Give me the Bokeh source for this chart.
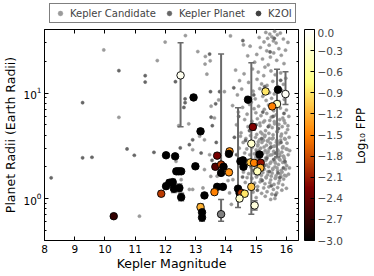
import math
from bokeh.plotting import figure
from bokeh.layouts import column, row
from bokeh.models import (ColumnDataSource, Range1d, FixedTicker, LinearColorMapper, ColorBar,
                          Legend, LegendItem, LinearAxis, LogAxis, Label,
                          CustomJSTickFormatter)
from bokeh.transform import transform
from bokeh.embed import file_html
from bokeh.resources import INLINE

FONT = "DejaVu Sans"

# ---------------- data ----------------
# Kepler candidates (Kepler magnitude, radius in Earth radii)
cand_kp = [9.96, 10.46, 11.73, 11.99, 11.14, 12.66, 12.44, 12.77, 13.07, 13.32, 13.31, 13.48, 13.37, 13.51,
           13.62, 13.13, 13.76, 14.15, 14.58, 13.95, 12.35, 12.52, 12.79, 13.29, 12.90, 13.46, 13.29, 13.50,
           13.24, 14.07, 14.23, 14.12, 14.18, 12.90, 13.71,
           15.32, 15.45, 15.61, 15.52, 15.70, 15.38, 15.80, 15.57, 15.26, 15.66, 15.43, 15.90, 15.14, 15.75,
           15.35, 15.58, 15.02, 15.83, 15.47, 15.21, 15.68, 14.95, 15.92, 15.40, 14.80, 15.10, 15.97, 16.05,
           14.72, 15.29,
           14.32, 14.60, 14.88, 15.07, 15.25, 15.49, 15.63, 15.81, 15.98, 14.45, 14.75, 15.03, 15.18, 15.36,
           15.55, 15.72, 15.90, 14.52, 14.90, 15.12, 15.44, 15.60, 15.85, 16.02, 14.38, 14.68, 14.97, 15.22,
           15.33, 15.51, 15.76, 15.93, 14.84,
           14.22, 14.55, 14.78, 14.93, 15.08, 15.27, 15.41, 15.58, 15.80, 16.00, 14.41, 14.70, 14.99, 15.16,
           15.35, 15.50, 15.66, 15.88, 16.08, 14.62, 14.86, 15.04, 15.24, 15.45, 15.61, 15.78, 15.95, 14.35,
           14.73, 14.95, 15.13, 15.31, 15.53, 15.70, 15.86, 16.04, 14.50, 15.20,
           14.48, 14.66, 14.81, 14.98, 15.11, 15.28, 15.39, 15.56, 15.68, 15.82, 15.96, 16.09,
           14.57, 14.76, 14.91, 15.06, 15.19, 15.34, 15.47, 15.63, 15.75, 15.89, 16.02,
           14.44, 14.69, 14.87, 15.00, 15.15, 15.30, 15.43, 15.58, 15.71, 15.85, 15.99, 16.11,
           14.62, 14.79, 14.94, 15.09, 15.23, 15.37, 15.52, 15.66, 15.79, 15.93, 16.06,
           14.53, 14.72, 14.89, 15.03, 15.17, 15.32, 15.46, 15.61, 15.74, 15.88, 16.01,
           14.67, 14.83, 14.97, 15.12, 15.27, 15.41, 15.55, 15.69, 15.83, 15.97, 16.10,
           15.24, 15.50, 15.77, 15.36, 15.62, 15.91, 15.05, 15.44, 15.70,
           14.58, 14.75, 14.92, 15.08, 15.22, 15.38, 15.53, 15.66, 15.80, 15.94, 16.07,
           14.70, 14.86, 15.01, 15.16, 15.33, 15.48, 15.63, 15.77, 15.91,
           14.64, 14.95, 15.13, 15.29, 15.45, 15.59, 15.74, 15.88,
           14.80, 15.05, 15.25, 15.42, 15.57, 15.71, 15.85, 16.00,
           14.90, 15.18, 15.36, 15.52, 15.68,
           15.00, 15.30, 15.48, 15.62,
           15.02, 15.15, 15.29, 15.42, 15.56, 15.69, 15.84, 15.98, 15.07, 15.21, 15.37, 15.53, 15.67, 15.81,
           15.94, 15.10, 15.26, 15.40, 15.58, 15.73, 15.87, 16.03, 14.99, 15.14, 15.31, 15.46, 15.60, 15.76,
           15.90, 15.05, 15.19, 15.34, 15.49, 15.64, 15.79, 15.96, 15.09, 15.24, 15.39, 15.55, 15.71, 15.86,
           15.01, 15.17, 15.33, 15.50, 15.65, 15.82, 15.99, 15.12, 15.28, 15.44, 15.60, 15.75, 15.92, 16.05]
cand_rad = [25.6, 5.88, 20.3, 30.4, 0.68, 35.0, 4.9, 5.1, 24.7, 22.2, 18.8, 20.2, 15.1, 7.5,
            5.8, 3.9, 8.6, 34.8, 28.6, 10.3, 2.25, 1.51, 1.22, 3.6, 2.9, 2.6, 1.88, 1.62,
            1.26, 1.48, 1.51, 1.13, 0.88, 1.22, 1.63,
            37.5, 36.2, 38.4, 34.1, 35.6, 33.0, 37.0, 31.2, 30.5, 29.8, 28.4, 32.5, 27.0, 26.3,
            25.1, 24.0, 23.2, 22.8, 21.9, 21.0, 20.4, 19.6, 19.0, 18.5, 27.8, 33.6, 25.5, 30.2,
            22.5, 17.6,
            16.5, 15.2, 16.9, 15.8, 14.6, 16.2, 14.9, 15.5, 13.8, 13.1, 12.6, 13.5, 12.2, 11.8,
            12.9, 11.5, 12.1, 10.9, 10.4, 11.0, 10.1, 9.8, 10.6, 9.4, 9.6, 9.1, 8.8, 9.3,
            8.5, 8.9, 8.3, 8.7, 8.2,
            7.6, 7.3, 7.8, 7.1, 7.5, 7.0, 7.7, 6.8, 7.2, 6.9, 6.6, 6.3, 6.5, 6.1,
            6.4, 5.9, 6.2, 5.8, 6.0, 5.6, 5.4, 5.7, 5.3, 5.5, 5.1, 5.6, 5.2, 5.0,
            4.8, 4.6, 4.9, 4.4, 4.7, 4.3, 4.8, 4.5, 4.2, 4.1,
            3.9, 3.7, 3.95, 3.8, 3.6, 3.85, 3.5, 3.75, 3.55, 3.9, 3.65, 3.8,
            3.4, 3.3, 3.45, 3.25, 3.4, 3.2, 3.35, 3.15, 3.3, 3.1, 3.35,
            3.0, 2.95, 3.05, 2.9, 3.0, 2.85, 2.95, 2.8, 2.9, 2.75, 2.95, 2.85,
            2.7, 2.6, 2.65, 2.55, 2.7, 2.5, 2.6, 2.45, 2.55, 2.4, 2.6,
            2.35, 2.3, 2.25, 2.35, 2.2, 2.3, 2.15, 2.25, 2.1, 2.2, 2.05,
            2.05, 1.98, 2.0, 1.95, 1.9, 2.0, 1.88, 1.95, 1.85, 1.9, 1.95,
            3.55, 3.1, 2.65, 2.7, 2.0, 2.5, 3.15, 3.7, 3.45,
            1.78, 1.72, 1.75, 1.7, 1.76, 1.68, 1.74, 1.65, 1.72, 1.66, 1.7,
            1.58, 1.55, 1.6, 1.52, 1.57, 1.5, 1.55, 1.48, 1.53,
            1.42, 1.4, 1.44, 1.38, 1.41, 1.36, 1.4, 1.35,
            1.28, 1.3, 1.26, 1.29, 1.22, 1.27, 1.2, 1.25,
            1.15, 1.12, 1.16, 1.1, 1.13,
            1.02, 1.05, 0.98, 1.0,
            4.05, 4.25, 3.98, 4.15, 4.02, 4.3, 4.08, 4.2, 3.45, 3.62, 3.52, 3.68, 3.42, 3.58,
            3.7, 2.88, 3.08, 2.78, 3.12, 2.82, 3.02, 2.92, 2.48, 2.62, 2.42, 2.58, 2.68, 2.38,
            2.52, 2.12, 2.28, 2.08, 2.22, 2.16, 2.32, 2.18, 1.82, 1.9, 1.8, 1.92, 1.84, 1.78,
            1.62, 1.66, 1.6, 1.63, 1.58, 1.61, 1.64, 5.2, 5.45, 4.95, 5.35, 5.05, 5.5, 4.9]

# Kepler confirmed planets
plan_kp = [8.22, 9.26, 9.26, 9.57, 10.46, 10.73, 10.97, 11.33, 11.33, 11.62, 12.33, 12.49, 12.65, 12.65,
           12.61, 12.79, 13.46, 13.49, 13.55, 13.79, 14.56, 13.66, 13.51, 12.90, 13.68, 13.18, 13.54,
           14.65, 14.85, 15.02, 15.18, 15.35, 15.48, 15.65, 15.82, 15.95, 14.74, 14.90, 15.10, 15.26,
           15.44, 15.58, 15.72, 15.90, 14.78, 15.00, 15.22, 15.40, 15.56, 15.74, 15.92, 14.92, 15.28,
           15.62, 15.81, 15.46, 15.60, 15.20, 15.50, 15.78, 15.04, 15.64, 14.55, 14.35, 14.28, 14.42,
           14.26]
plan_rad = [1.57, 8.1, 2.43, 2.46, 16.3, 2.95, 2.57, 14.6, 12.7, 2.74, 12.8, 3.02, 8.8, 8.1,
            7.3, 3.24, 23.4, 10.3, 4.9, 10.3, 31.4, 7.9, 5.9, 3.6, 3.4, 2.7, 2.3,
            3.55, 3.2, 2.75, 3.7, 2.4, 3.05, 2.7, 3.4, 2.25, 2.15, 1.85, 2.4, 2.05,
            1.8, 2.35, 1.75, 1.95, 4.4, 5.0, 6.6, 4.8, 6.0, 4.6, 6.4, 9.6, 11.5,
            8.0, 13.2, 24.5, 33.0, 1.48, 1.32, 1.58, 1.2, 1.08, 1.6, 2.6, 3.8, 6.0,
            11.2]

# K2 objects of interest
k2_kp = [10.29, 11.86, 12.02, 12.32, 12.36, 12.44, 12.52, 12.99, 12.02, 12.13, 12.24, 12.28, 12.46, 12.52,
         13.16, 12.50, 12.93, 14.73, 14.89, 15.31, 15.72, 15.97, 15.69, 15.53, 13.71, 14.12, 14.10, 13.65,
         13.84, 13.92, 13.84, 14.10, 14.48, 14.56, 14.58, 14.84, 15.11, 14.81, 14.93, 15.15, 15.14, 15.04,
         13.71, 13.90, 13.62, 14.40, 14.45, 14.51, 14.62, 14.45, 14.84, 13.29, 13.16, 13.21, 13.21, 13.84,
         14.95]
k2_rad = [0.68, 1.11, 2.57, 2.51, 1.81, 1.81, 1.81, 2.02, 1.31, 1.41, 1.43, 1.24, 1.26, 1.03,
          4.33, 14.7, 9.08, 8.64, 4.77, 10.35, 10.75, 9.78, 7.87, 7.47, 2.55, 2.80, 2.65, 2.00,
          2.10, 2.00, 1.75, 1.77, 2.25, 2.30, 2.00, 3.31, 2.61, 2.20, 2.18, 2.18, 1.95, 1.81,
          1.29, 1.29, 1.15, 1.24, 1.13, 1.13, 1.11, 1.00, 1.29, 1.07, 0.83, 0.74, 0.66, 0.71,
          0.86]
k2_err_lo = [0.03, 0.06, 0.10, 0.10, 0.08, 0.08, 0.08, 0.09, 0.07, 0.08, 0.08, 0.10, 0.10, 0.08,
             0.20, 9.90, 0.40, 0.40, 0.30, 0.50, 0.50, 2.00, 5.40, 0.40, 0.12, 0.12, 0.12, 0.10,
             0.20, 0.10, 0.09, 0.09, 0.10, 0.10, 0.10, 2.60, 0.12, 0.10, 0.10, 0.10, 0.09, 0.09,
             0.06, 0.06, 0.06, 0.42, 0.06, 0.06, 0.06, 0.05, 0.07, 0.05, 0.05, 0.05, 0.05, 0.10,
             0.08]
k2_err_hi = [0.03, 0.07, 0.12, 0.12, 0.09, 0.09, 0.09, 0.10, 0.08, 0.09, 0.09, 0.11, 0.11, 0.09,
             0.25, 15.2, 0.45, 0.45, 0.35, 0.60, 0.60, 6.10, 8.90, 0.45, 0.14, 0.14, 0.14, 0.12,
             21.3, 0.12, 0.10, 0.10, 0.12, 0.12, 0.12, 16.1, 0.14, 0.12, 0.12, 0.12, 0.10, 0.10,
             0.07, 0.07, 0.07, 6.00, 0.07, 0.07, 0.07, 0.06, 0.08, 0.06, 0.06, 0.06, 0.06, 0.27,
             0.09]
k2_logfpp = [-2.7, -1.9, -3.0, -3.0, -3.0, -3.0, -3.0, -3.0, -3.0, -3.0, -3.0, -3.0, -3.0, -3.0,
             -3.0, -0.1, -3.0, -3.0, -2.25, -0.9, -3.0, -0.05, -0.35, -1.5, -2.3, -1.4, -3.0, -2.5,
             -1.9, -3.0, -3.0, -1.4, -3.0, -3.0, -3.0, -0.3, -3.0, -1.1, -1.5, -2.15, -1.2, -0.4,
             -3.0, -3.0, -1.5, -3.0, -3.0, -1.9, -0.9, -0.3, -1.1, -3.0, -1.2, -3.0, -3.0, float("nan"),
             -0.2]

cbar_ticks = [-3.0, -2.7, -2.4, -2.1, -1.8, -1.5, -1.2, -0.9, -0.6, -0.3, 0.0]
x_ticks = [8, 9, 10, 11, 12, 13, 14, 15, 16]
y_ticks = [1, 10]
y_minor = [0.4, 0.5, 0.6, 0.7, 0.8, 0.9, 2, 3, 4, 5, 6, 7, 8, 9, 20, 30, 40]


# ---------------- style helpers ----------------
def afmhot(n=256):
    cols = []
    for i in range(n):
        t = i / (n - 1)
        r = min(1.0, max(0.0, 2 * t))
        g = min(1.0, max(0.0, 2 * t - 0.5))
        b = min(1.0, max(0.0, 2 * t - 1.0))
        cols.append("#%02x%02x%02x" % (round(r * 255), round(g * 255), round(b * 255)))
    return cols


FW, FH = 254, 211
LEFT = 35
LEG_H = 28
RIGHT = 50

p = figure(frame_width=FW, frame_height=FH, x_range=Range1d(8, 16.4), y_range=Range1d(0.4, 40),
           y_axis_type="log", output_backend="svg", toolbar_location=None,
           min_border_left=LEFT, min_border_right=RIGHT, min_border_top=1, min_border_bottom=0)
p.grid.visible = False
p.outline_line_color = "black"
p.outline_line_width = 1
p.background_fill_color = "white"
p.border_fill_color = "white"

p.xaxis.ticker = FixedTicker(ticks=x_ticks)
p.yaxis.ticker = FixedTicker(ticks=y_ticks, minor_ticks=y_minor)
p.xaxis.axis_label = "Kepler Magnitude"
p.yaxis.axis_label = "Planet Radii (Earth Radii)"
for ax in [p.xaxis[0], p.yaxis[0]]:
    ax.axis_label_text_font = FONT
    ax.axis_label_text_font_size = "12.5px"
    ax.axis_label_text_font_style = "normal"
    ax.axis_label_text_color = "black"
    ax.major_label_text_font = FONT
    ax.major_label_text_font_size = "10.5px"
    ax.major_label_text_color = "black"
    ax.major_tick_in = 4
    ax.major_tick_out = 0
    ax.minor_tick_in = 2
    ax.minor_tick_out = 0
    ax.major_label_standoff = 3
    ax.axis_label_standoff = 2
    ax.axis_line_color = None
    ax.major_tick_line_color = "black"
    ax.minor_tick_line_color = "black"
p.xaxis[0].major_label_standoff = 4
p.xaxis[0].axis_label_standoff = 0

top_ax = LinearAxis(ticker=FixedTicker(ticks=x_ticks), major_label_text_font_size="1px",
                    major_label_text_color=None,
                    major_tick_in=4, major_tick_out=0, minor_tick_in=0, minor_tick_out=0,
                    axis_line_color=None, major_label_standoff=0)
p.add_layout(top_ax, "above")
right_ax = LogAxis(ticker=FixedTicker(ticks=y_ticks, minor_ticks=y_minor), major_label_text_font_size="1px",
                   major_label_text_color=None,
                   major_tick_in=4, major_tick_out=0, minor_tick_in=2, minor_tick_out=0,
                   axis_line_color=None, major_label_standoff=0)
p.add_layout(right_ax, "right")
# invisible spacer between the plot frame and the colour bar
spacer_ax = LogAxis(ticker=FixedTicker(ticks=y_ticks), major_label_text_font_size="1px",
                    major_label_text_color=None, major_tick_in=0, major_tick_out=6,
                    minor_tick_in=0, minor_tick_out=0, major_tick_line_color=None,
                    minor_tick_line_color=None, axis_line_color=None, major_label_standoff=0)
p.add_layout(spacer_ax, "right")

cand_src = ColumnDataSource(dict(x=cand_kp, y=cand_rad))
plan_src = ColumnDataSource(dict(x=plan_kp, y=plan_rad))
cand_style = dict(size=3.2, fill_color="#9a9a9a", line_color="#9a9a9a", line_width=0.5)
plan_style = dict(size=3.2, fill_color="#666666", line_color="#666666", line_width=0.5)
p.scatter("x", "y", source=cand_src, **cand_style)
p.scatter("x", "y", source=plan_src, **plan_style)

mapper = LinearColorMapper(palette=afmhot(256), low=-3.0, high=0.0, nan_color="#808080")

k2_lower = [r - e for r, e in zip(k2_rad, k2_err_lo)]
k2_upper = [r + e for r, e in zip(k2_rad, k2_err_hi)]
k2_src = ColumnDataSource(dict(x=k2_kp, y=k2_rad, lower=k2_lower, upper=k2_upper, fpp=k2_logfpp))

bar_color = "#6a6a6a"
p.segment(x0="x", y0="lower", x1="x", y1="upper", source=k2_src, line_color=bar_color, line_width=2)
p.scatter("x", "lower", source=k2_src, marker="dash", size=6, line_color=bar_color, line_width=1.5)
p.scatter("x", "upper", source=k2_src, marker="dash", size=6, line_color=bar_color, line_width=1.5)

p.scatter("x", "y", source=k2_src, size=7.5, fill_color=transform("fpp", mapper),
          line_color="black", line_width=0.9)

cbar = ColorBar(color_mapper=mapper, ticker=FixedTicker(ticks=cbar_ticks),
                formatter=CustomJSTickFormatter(code="return tick.toFixed(1).replace('-', '\u2212');"),
                width=10, height=FH, padding=0, margin=0, location=(0, 0),
                major_label_text_font=FONT, major_label_text_font_size="10.5px",
                major_tick_in=4, major_tick_out=0, major_tick_line_color="black",
                bar_line_color="black", bar_line_width=1, label_standoff=3,
                border_line_color=None, background_fill_color=None)
p.add_layout(cbar, "right")

# ---------------- legend strip above the plot ----------------
lf = figure(frame_width=FW, frame_height=LEG_H, x_range=Range1d(0, 1), y_range=Range1d(0, 1),
            output_backend="svg", toolbar_location=None, x_axis_location=None, y_axis_location=None,
            min_border_left=LEFT, min_border_right=RIGHT, min_border_top=0, min_border_bottom=0)
lf.grid.visible = False
lf.outline_line_color = None
lf.background_fill_color = "white"
lf.border_fill_color = "white"
off_src = ColumnDataSource(dict(x=[5.0], y=[5.0]))
lr_cand = lf.scatter("x", "y", source=off_src, **cand_style)
lr_plan = lf.scatter("x", "y", source=off_src, **plan_style)
lr_bar = lf.scatter("x", "y", source=off_src, marker="dash", angle=math.pi / 2, size=12,
                    line_color=bar_color, line_width=1.5)
lr_dot = lf.scatter("x", "y", source=off_src, marker="circle", size=4, fill_color="#404040",
                    line_color="#404040")
legend = Legend(items=[LegendItem(label="Kepler Candidate", renderers=[lr_cand]),
                       LegendItem(label="Kepler Planet", renderers=[lr_plan]),
                       LegendItem(label="K2OI", renderers=[lr_bar, lr_dot])],
                orientation="horizontal", location=(5, 5),
                label_text_font=FONT, label_text_font_size="10px",
                glyph_width=14, glyph_height=12, label_height=12, label_standoff=3,
                spacing=6, padding=3, margin=0,
                border_line_color="black", border_line_width=1,
                background_fill_color="white", background_fill_alpha=1)
lf.add_layout(legend)

# ---------------- colour-bar title strip on the right ----------------
TH = LEG_H + 2 + FH + 31
tf = figure(frame_width=24, frame_height=TH, x_range=Range1d(0, 24), y_range=Range1d(0, TH),
            output_backend="svg", toolbar_location=None, x_axis_location=None, y_axis_location=None,
            min_border_left=0, min_border_right=0, min_border_top=0, min_border_bottom=0)
tf.grid.visible = False
tf.outline_line_color = None
tf.background_fill_color = "white"
tf.border_fill_color = "white"
tf.add_layout(Label(x=12, y=TH - (LEG_H + 2 + FH / 2), angle=math.pi / 2, text="Log\u2081\u2080 FPP",
                    text_font=FONT, text_font_size="12px", text_color="black",
                    text_align="center", text_baseline="middle"))

layout = row(column(lf, p, spacing=0), tf, spacing=0)
open("out.html", "w").write(file_html(layout, INLINE))
